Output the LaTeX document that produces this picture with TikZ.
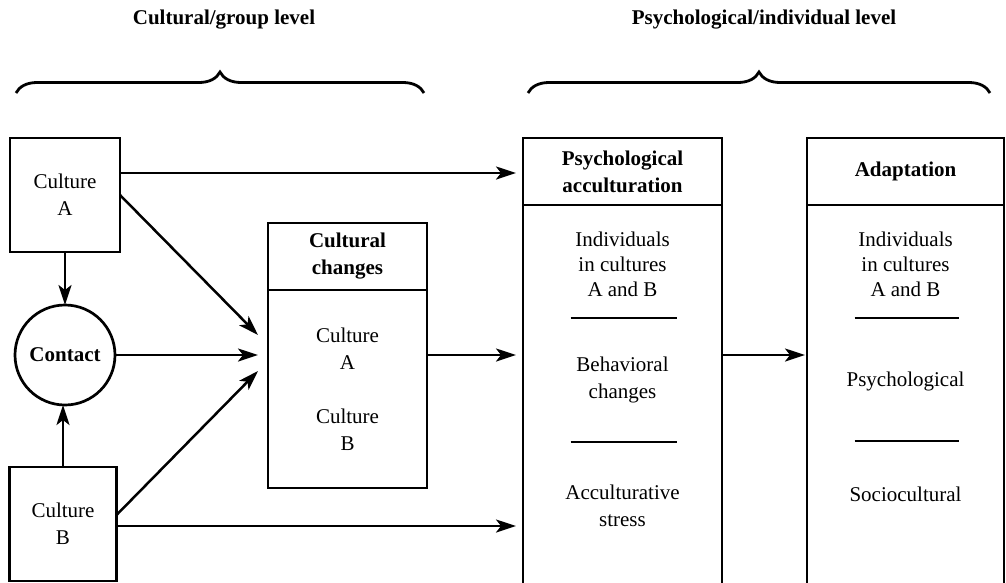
\documentclass[tikz,border=0pt]{standalone}
\usepackage{fontspec}
\setmainfont{Liberation Serif}
\usetikzlibrary{arrows.meta,calc,positioning,decorations.pathreplacing}

\tikzset{
  box/.style={draw,line width=2.7pt,outer sep=0pt,align=center,inner sep=0pt,font=\fontsize{21}{25}\selectfont},
  headbox/.style={box,font=\fontsize{21}{27}\selectfont\bfseries},
  txt/.style={align=center,inner sep=0pt,font=\fontsize{21}{25}\selectfont},
  title/.style={inner sep=0pt,font=\fontsize{21}{25}\selectfont\bfseries},
  arr/.style={line width=2.5pt,-{Stealth[length=20pt,width=13pt,inset=5pt]}},
  sepline/.style={line width=2.7pt},
  brc/.style={line width=2.8pt,decorate,decoration={brace,amplitude=21pt}}
}

\begin{document}
\begin{tikzpicture}[x=1pt,y=1pt]
\useasboundingbox (0,0) rectangle (1006,-582);

\node[title] (grp) at (224,-20) {Cultural/group level};
\node[title] (indiv) at (764,-20) {Psychological/individual level};

\draw[brc] (16,-93) -- (424,-93);
\draw[brc] (528,-93) -- (990,-93);

\node[box,minimum width=110pt,minimum height=114pt] (cultA) at (65,-195) {Culture\\[2pt]A};
\node[box,circle,minimum size=100pt,font=\fontsize{21}{25}\selectfont\bfseries] (contact) at (65,-355) {Contact};
\node[box,minimum width=107pt,minimum height=114pt] (cultB) at (63,-524) {Culture\\[2pt]B};

\node[headbox,minimum width=159pt,minimum height=67pt] (chghead) at (347.5,-256.5) {Cultural\\changes};
\node[box,minimum width=159pt,minimum height=198pt,below=0pt of chghead] (chg) {Culture\\[2pt]A\\[29pt]Culture\\[2pt]B};

\node[headbox,minimum width=199pt,minimum height=67pt] (psyhead) at (622.5,-171.5) {Psychological\\acculturation};
\node[headbox,minimum width=197pt,minimum height=67pt] (adapthead) at (905.5,-171.5) {Adaptation};

\draw[sepline] (psyhead.south west) -- ++(0,-400);
\draw[sepline] (psyhead.south east) -- ++(0,-400);
\draw[sepline] (adapthead.south west) -- ++(0,-400);
\draw[sepline] (adapthead.south east) -- ++(0,-400);

\node[txt] (psyind) at ($(psyhead.south)+(0,-59)$) {Individuals\\in cultures\\A and B};
\node[txt] (psybeh) at ($(psyhead.south)+(0,-175)$) {Behavioral\\[2pt]changes};
\node[txt] (psystr) at ($(psyhead.south)+(0,-301)$) {Acculturative\\[2pt]stress};
\draw[sepline] ($(psyhead.south)+(-52,-113)$) -- ++(106,0);
\draw[sepline] ($(psyhead.south)+(-52,-237)$) -- ++(106,0);

\node[txt] (adind) at ($(adapthead.south)+(0,-59)$) {Individuals\\in cultures\\A and B};
\node[txt] (adpsy) at ($(adapthead.south)+(0,-176)$) {Psychological};
\node[txt] (adsoc) at ($(adapthead.south)+(0,-289)$) {Sociocultural};
\draw[sepline] ($(adapthead.south)+(-51,-113)$) -- ++(104,0);
\draw[sepline] ($(adapthead.south)+(-51,-236)$) -- ++(104,0);

\coordinate (tipA) at ($(contact.east -| chg.west)+(-10,20)$);
\coordinate (tipB) at ($(contact.east -| chg.west)+(-10,-16)$);

\draw[arr] (cultA.south) -- (contact.north);
\draw[arr] (cultB.north) -- (cultB.north |- contact.south);
\draw[arr] (cultA.east) -- (tipA);
\draw[arr,shorten >=10pt] (contact.east) -- (contact.east -| chg.west);
\draw[arr] ([yshift=9pt]cultB.east) -- (tipB);
\draw[arr,shorten >=7pt] ([yshift=22pt]cultA.east) -- ([yshift=22pt]cultA.east -| psyhead.west);
\draw[arr,shorten >=7pt] ([yshift=-2pt]cultB.east) -- ([yshift=-2pt]cultB.east -| psyhead.west);
\draw[arr,shorten >=7pt] (contact.east -| chg.east) -- (contact.east -| psyhead.west);
\draw[arr,shorten >=2pt] (contact.east -| psyhead.east) -- (contact.east -| adapthead.west);

\end{tikzpicture}
\end{document}
